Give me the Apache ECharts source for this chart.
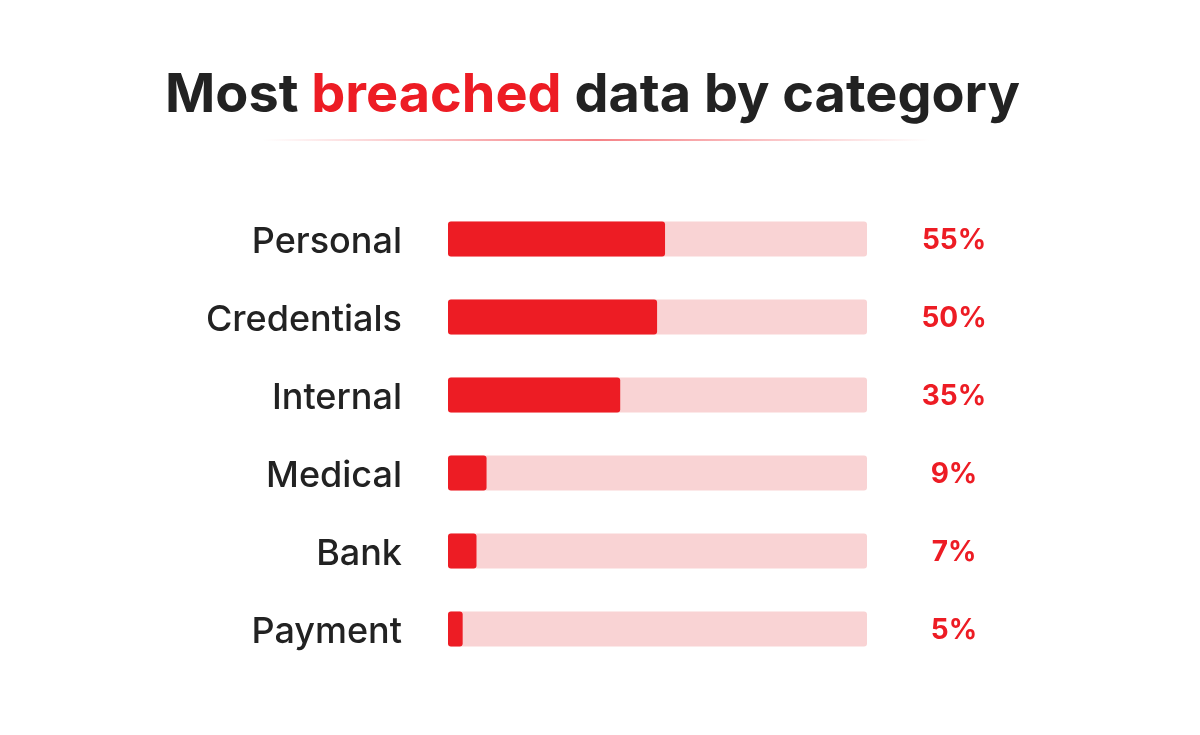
<!DOCTYPE html>
<html>
<head>
<meta charset="utf-8">
<script src="https://cdn.jsdelivr.net/npm/echarts@6/dist/echarts.min.js"></script>
<style>
    html, body { margin: 0; padding: 0; background: #fff; }
    #chart { width: 1200px; height: 735px; }
</style>
</head>
<body>
<div id="chart"></div>
<script>
var categories = ['Personal', 'Credentials', 'Internal', 'Medical', 'Bank', 'Payment'];
// printed shares next to each bar
var shares = [55, 50, 35, 9, 7, 5];
// bar lengths as drawn in the picture (track = 100)
var barLengths = [51.8, 49.9, 41.1, 9.2, 6.8, 3.5];

var chartMain = (function() {
    var red = '#ED1C24';
    var myChart = echarts.init(document.getElementById('chart'));

    var option = {
        backgroundColor: '#fff',
        title: {
            text: '{d|Most }{r|breached}{d| data by category}',
            left: 160,
            top: 64,
            textStyle: {
                rich: {
                    d: { fontFamily: 'Inter', fontWeight: 'bold', fontSize: 54, color: '#222' },
                    r: { fontFamily: 'Inter', fontWeight: 'bold', fontSize: 54, color: red }
                }
            }
        },
        graphic: [{
            type: 'rect',
            shape: { x: 262, y: 139, width: 668, height: 2 },
            style: {
                fill: new echarts.graphic.LinearGradient(0, 0, 1, 0, [
                    { offset: 0, color: 'rgba(237,28,36,0)' },
                    { offset: 0.5, color: 'rgba(237,28,36,0.55)' },
                    { offset: 1, color: 'rgba(237,28,36,0)' }
                ])
            }
        }],
        grid: { left: 448, right: 333, top: 200, bottom: 67 },
        xAxis: {
            type: 'value', min: 0, max: 100,
            show: false
        },
        yAxis: [{
            type: 'category',
            data: categories,
            inverse: true,
            axisLine: { show: false },
            axisTick: { show: false },
            axisLabel: {
                margin: 46,
                formatter: function(v) { return '{c|' + v + '}'; },
                rich: {
                    c: {
                        fontFamily: 'Inter',
                        fontSize: 36,
                        fontWeight: 500,
                        color: '#222',
                        padding: [6, 0, 0, 0]
                    }
                }
            }
        }, {
            type: 'category',
            data: shares,
            inverse: true,
            position: 'right',
            axisLine: { show: false },
            axisTick: { show: false },
            axisLabel: {
                margin: 87,
                align: 'center',
                formatter: function(v) { return '{p|' + v + '%}'; },
                rich: {
                    p: {
                        fontFamily: 'Inter',
                        fontSize: 28,
                        fontWeight: 'bold',
                        color: red,
                        padding: [4, 0, 0, 0]
                    }
                }
            }
        }],
        series: [{
            type: 'bar',
            data: barLengths,
            barWidth: 35,
            itemStyle: { color: red, borderRadius: 3 },
            showBackground: true,
            backgroundStyle: { color: '#F9D3D4', borderRadius: 3 },
            silent: true
        }]
    };
    myChart.setOption(option, true);
    return { chart: myChart };
})();
</script>
</body>
</html>
